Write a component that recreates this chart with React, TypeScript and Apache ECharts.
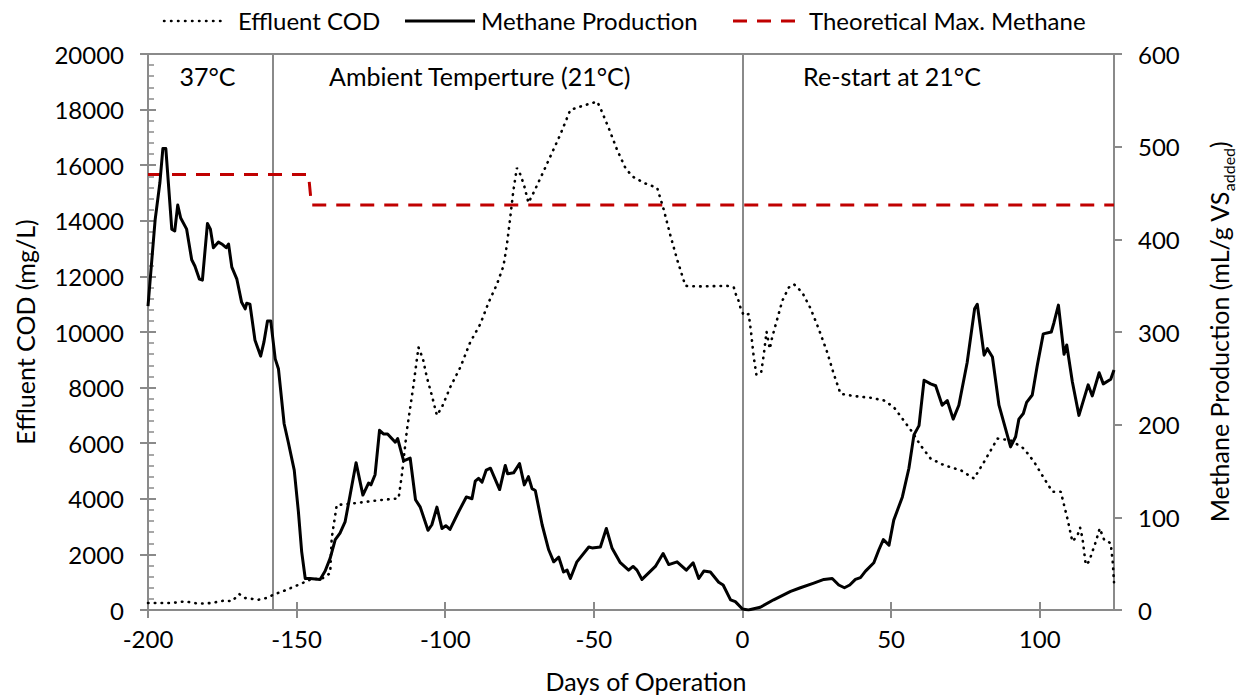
import React, { useEffect, useRef } from "react";
import * as echarts from "echarts";

// Effluent COD (mg/L) by day of operation
const codDays = [
  -200, -197, -192, -187.5, -183, -178.6, -174.1, -171.8, -169.3, -167.3, -162.8, -160.2, -157.8,
  -153.3, -148.8, -145.5, -141.2, -138.7, -138.2, -136.5, -130.9, -121.9, -115.7, -114.6, -112.9,
  -110.7, -109, -107.5, -106.2, -104.5, -102.8, -101.1, -98.3, -94.9, -91.6, -88.2, -85.4, -82.6,
  -80.4, -79.3, -78.2, -77.1, -75.9, -74.7, -73.4, -72, -70.3, -66.9, -64.1, -61.3, -57.9, -54.5,
  -48.9, -47.8, -45, -42.2, -39.4, -37.1, -33.2, -28.7, -26.5, -24.2, -22, -19.2, -15.3, -5.2,
  -2.9, -2.2, -1.8, -0.7, 0.4, 2.1, 2.9, 3.8, 4.7, 6.3, 7.2, 8.1, 9.2, 10, 11.7, 13.4, 15.6, 17.3,
  20.1, 22.9, 25.7, 28.5, 30.7, 33, 37.5, 43.1, 47.6, 50.9, 53.8, 57.1, 59.9, 63.3, 67.8, 73.4,
  77.9, 81.3, 85.8, 90.2, 94.7, 98.1, 101.5, 104.3, 107.1, 109.3, 111, 112.7, 113.6, 114.4, 115.5,
  116.6, 118.9, 120.2, 121.7, 123.9, 124.6, 125,
];
const codValues = [
  250, 251, 251, 310, 226, 251, 346, 310, 573, 430, 370, 430, 550,
  730, 932, 1087, 1147, 1326, 2580, 3775, 3835, 3953, 4014, 4850, 6462,
  8075, 9450, 9032, 8375, 7717, 7000, 7300, 8018, 8735, 9630, 10287, 11064, 11720,
  12376, 13093, 14050, 15064, 15903, 15663, 15244, 14648, 15006, 15782, 16440, 17097, 17993, 18111,
  18290, 18052, 17336, 16559, 15903, 15602, 15366, 15185, 14409, 13452, 12616, 11660, 11638, 11660,
  11602, 11350, 11302, 10885, 10600, 10645, 9990, 9093, 8459, 8555, 9211, 10011, 9391, 9810, 10466, 11122, 11602, 11720,
  11423, 10850, 10100, 9272, 8495, 7778, 7695, 7634, 7538, 7300, 6882, 6405, 5925, 5448, 5208, 5029,
  4731, 5330, 6165, 6104, 5806, 5330, 4731, 4254, 4254, 3297, 2462, 2677, 2964, 2580, 1624,
  1745, 2462, 2939, 2520, 2401, 1700, 1000,
];

// Methane production (mL/g VS added) by day of operation
const methaneDays = [
  -200, -197.6, -196, -195, -194, -192, -191, -190, -189, -187, -185.3, -184.2, -182.7, -181.7,
  -180, -179, -178, -176.3, -175.2, -173.7, -172.9, -171.8, -170.1, -168.5, -167.3, -166.8, -165.7,
  -164, -162.1, -161, -159.8, -158.7, -157.2, -156.1, -154.2, -152.8, -150.8, -149.4, -148.3, -147.1,
  -145.5, -142.1, -140.4, -138.7, -137, -135.4, -133.7, -132, -130, -127.7, -125.8, -125, -123.6,
  -122.1, -120.8, -119.4, -116.8, -116, -114, -111.8, -110, -108.4, -105.8, -104.5, -102.8, -101.1,
  -99.8, -98.4, -95.5, -92.9, -91, -89.9, -88.8, -87.6, -86.2, -84.8, -81.7, -79.8, -79, -77, -75,
  -73.4, -72, -70.8, -69.7, -67.4, -65.2, -63.5, -61.8, -60.2, -59, -57.9, -55.7, -51.7, -50.6,
  -47.8, -45.8, -43.9, -41.1, -38.3, -36.8, -35.5, -33.8, -29.3, -26.7, -24.8, -22, -18.9, -16.6,
  -14.7, -13, -10.8, -8, -6.5, -4, -2.4, 0, 2, 6, 10.5, 16.2, 19.5, 24, 27.4, 30.2, 32.4, 34.3,
  36.1, 38, 39.7, 41.4, 44.2, 45.9, 47.4, 49.3, 50.9, 53.8, 56, 57.7, 59.4, 61.1, 63.3, 65, 67.2,
  68.9, 70.9, 72.8, 75.6, 78.1, 79, 81.3, 82.4, 84.1, 86.3, 90.2, 91.9, 93, 94.5, 95.6, 97.5, 99.2,
  101.2, 103.9, 104.8, 106.3, 108.2, 109.1, 111, 113.2, 116.3, 117.7, 120, 121.4, 123.9, 125,
];
const methaneValues = [
  328, 421, 461, 498, 498, 411, 409, 437, 423, 411, 378, 371, 357, 356,
  417, 411, 391, 397, 395, 391, 395, 370, 357, 332, 325, 331, 330,
  291, 274, 289, 312, 312, 271, 260, 201, 181, 151, 106, 63, 34,
  34, 33, 42, 56, 76, 83, 95, 124, 159, 124, 137, 135, 146,
  194, 190, 190, 181, 185, 161, 164, 119, 111, 86, 92, 111, 88,
  91, 87, 106, 122, 120, 139, 142, 138, 151, 153, 130, 156, 147, 148, 158,
  135, 144, 131, 129, 92, 65, 52, 57, 41, 43, 34, 52, 68, 67,
  68, 88, 67, 51, 43, 47, 43, 33, 47, 61, 49, 52, 43, 51,
  34, 42, 41, 30, 27, 11, 9, 1, 0, 3, 11, 20, 24, 29, 33, 34, 27, 24,
  27, 33, 35, 42, 51, 65, 76, 70, 97, 122, 153, 189, 199, 248, 244, 242, 221,
  226, 206, 221, 267, 325, 330, 275, 282, 273, 221, 176, 187, 206, 212, 224, 232, 264,
  298, 300, 310, 329, 276, 286, 246, 210, 243, 231, 256, 244, 249, 259,
];

// Theoretical maximum methane yield
const theoryDays = [-200, -146, -145, 125];
const theoryValues = [470, 470, 437, 437];

// Phase boundaries and phase names
const phaseBoundaries = [-158, 0];
const phaseNames = ["37°C", "Ambient Temperture (21°C)", "Re-start at 21°C"];
const phaseLabelDays = [-180, -88.4, 50.3];
const phaseLabelLevel = 19200;

const xTickValues = [-200, -150, -100, -50, 0, 50, 100];

const FONT = 'Lato, "Open Sans", sans-serif';
const AXIS_GRAY = "#8a8a8a";
const TEXT = "#000000";
const TICK_SIZE = 24;
const TITLE_SIZE = 25;

const zip = (xs: number[], ys: number[]) => xs.map((x, i) => [x, ys[i]]);

export default function App() {
  const ref = useRef<HTMLDivElement>(null);

  useEffect(() => {
    if (!ref.current) return;
    const chart = echarts.init(ref.current, undefined, { renderer: "svg" });

    const tickStyle = { color: TEXT, fontFamily: FONT, fontSize: TICK_SIZE };
    const titleStyle = { color: TEXT, fontFamily: FONT, fontSize: TITLE_SIZE };
    const plain = (v: number) => String(v);

    const option: any = {
      animation: false,
      backgroundColor: "#ffffff",
      grid: {
        left: 148,
        right: 130,
        top: 54,
        bottom: 86,
        show: true,
        borderColor: AXIS_GRAY,
        borderWidth: 2,
        containLabel: false,
      },
      xAxis: [
        {
          type: "value",
          position: "bottom",
          min: -200,
          max: 125,
          interval: 50,
          name: "Days of Operation",
          nameLocation: "middle",
          nameGap: 58,
          nameTextStyle: { ...titleStyle, padding: [0, 0, 0, 30] },
          axisLine: { show: true, onZero: false, lineStyle: { color: AXIS_GRAY, width: 2 } },
          axisTick: { show: true, inside: false, length: 8, lineStyle: { color: AXIS_GRAY, width: 2 }, customValues: xTickValues },
          axisLabel: { ...tickStyle, margin: 16, customValues: xTickValues, formatter: plain },
          splitLine: { show: false },
        },
        {
          type: "value",
          position: "bottom",
          min: -200,
          max: 125,
          interval: 50,
          axisLine: { show: false, onZero: false },
          axisTick: { show: true, inside: true, length: 8, lineStyle: { color: AXIS_GRAY, width: 2 }, customValues: xTickValues },
          axisLabel: { show: false },
          splitLine: { show: false },
        },
      ],
      yAxis: [
        {
          type: "value",
          position: "left",
          min: 0,
          max: 20000,
          interval: 2000,
          name: "Effluent COD (mg/L)",
          nameLocation: "middle",
          nameRotate: 90,
          nameGap: 111,
          nameTextStyle: titleStyle,
          axisLine: { show: true, onZero: false, lineStyle: { color: AXIS_GRAY, width: 2 } },
          axisTick: { show: true, inside: false, length: 8, lineStyle: { color: AXIS_GRAY, width: 2 } },
          axisLabel: { ...tickStyle, margin: 24, formatter: plain },
          splitLine: { show: false },
        },
        {
          type: "value",
          position: "right",
          min: 0,
          max: 600,
          interval: 100,
          name: "{b|Methane Production (mL/g VS}{s|added}{b|)}",
          nameLocation: "middle",
          nameRotate: 90,
          nameGap: 88,
          nameTextStyle: {
            ...titleStyle,
            rich: {
              b: { fontFamily: FONT, fontSize: TITLE_SIZE, color: TEXT, lineHeight: 34, verticalAlign: "middle" },
              s: { fontFamily: FONT, fontSize: 16, color: TEXT, lineHeight: 34, verticalAlign: "bottom" },
            },
          },
          axisLine: { show: true, onZero: false, lineStyle: { color: AXIS_GRAY, width: 2 } },
          axisTick: { show: true, inside: false, length: 8, lineStyle: { color: AXIS_GRAY, width: 2 } },
          axisLabel: { ...tickStyle, margin: 24, formatter: plain },
          splitLine: { show: false },
        },
        {
          type: "value",
          position: "left",
          min: 0,
          max: 20000,
          interval: 2000,
          axisLine: { show: false, onZero: false },
          axisTick: { show: true, inside: true, length: 8, lineStyle: { color: AXIS_GRAY, width: 2 } },
          minorTick: { show: true, splitNumber: 5, length: 6, lineStyle: { color: AXIS_GRAY, width: 1.5 } },
          axisLabel: { show: false },
          splitLine: { show: false },
        },
      ],
      graphic: [
        {
          type: "line",
          shape: { x1: 164, y1: 21, x2: 227, y2: 21 },
          style: { stroke: "#000", lineWidth: 2.5, lineDash: [0.5, 6.5], lineCap: "round" },
        },
        {
          type: "text",
          x: 238,
          y: 20,
          style: { text: "Effluent COD", fontFamily: FONT, fontSize: TICK_SIZE, fill: TEXT, verticalAlign: "middle" },
        },
        {
          type: "line",
          shape: { x1: 405, y1: 21, x2: 475, y2: 21 },
          style: { stroke: "#000", lineWidth: 3 },
        },
        {
          type: "text",
          x: 481,
          y: 20,
          style: { text: "Methane Production", fontFamily: FONT, fontSize: TICK_SIZE, fill: TEXT, verticalAlign: "middle" },
        },
        {
          type: "line",
          shape: { x1: 733, y1: 21, x2: 795, y2: 21 },
          style: { stroke: "#c00000", lineWidth: 3, lineDash: [14, 10] },
        },
        {
          type: "text",
          x: 809,
          y: 20,
          style: { text: "Theoretical Max. Methane", fontFamily: FONT, fontSize: TICK_SIZE, fill: TEXT, verticalAlign: "middle" },
        },
      ],
      series: [
        {
          name: "Effluent COD",
          type: "line",
          xAxisIndex: 0,
          yAxisIndex: 0,
          data: zip(codDays, codValues),
          showSymbol: false,
          symbol: "none",
          z: 4,
          lineStyle: { color: "#000", width: 2.6, type: [0.5, 6.3], cap: "round" },
          markLine: {
            silent: true,
            symbol: "none",
            label: { show: false },
            lineStyle: { color: AXIS_GRAY, width: 2, type: "solid" },
            data: phaseBoundaries.map((d) => ({ xAxis: d })),
            z: 1,
          },
          markPoint: {
            silent: true,
            symbol: "rect",
            symbolSize: 1,
            itemStyle: { color: "rgba(0,0,0,0)" },
            label: {
              show: true,
              position: "inside",
              formatter: (p: any) => p.name,
              color: TEXT,
              fontFamily: FONT,
              fontSize: TITLE_SIZE,
            },
            data: phaseNames.map((n, i) => ({ name: n, coord: [phaseLabelDays[i], phaseLabelLevel] })),
          },
        },
        {
          name: "Methane Production",
          type: "line",
          xAxisIndex: 0,
          yAxisIndex: 1,
          data: zip(methaneDays, methaneValues),
          showSymbol: false,
          symbol: "none",
          z: 3,
          lineStyle: { color: "#000", width: 3, join: "round" },
        },
        {
          name: "Theoretical Max. Methane",
          type: "line",
          xAxisIndex: 0,
          yAxisIndex: 1,
          data: zip(theoryDays, theoryValues),
          showSymbol: false,
          symbol: "none",
          z: 2,
          lineStyle: { color: "#c00000", width: 3, type: [14, 10] },
        },
      ],
    };

    chart.setOption(option);
    return () => chart.dispose();
  }, []);

  return (
    <div
      ref={ref}
      style={{ position: "fixed", left: 0, top: 0, width: 1244, height: 698, background: "#fff" }}
    />
  );
}
